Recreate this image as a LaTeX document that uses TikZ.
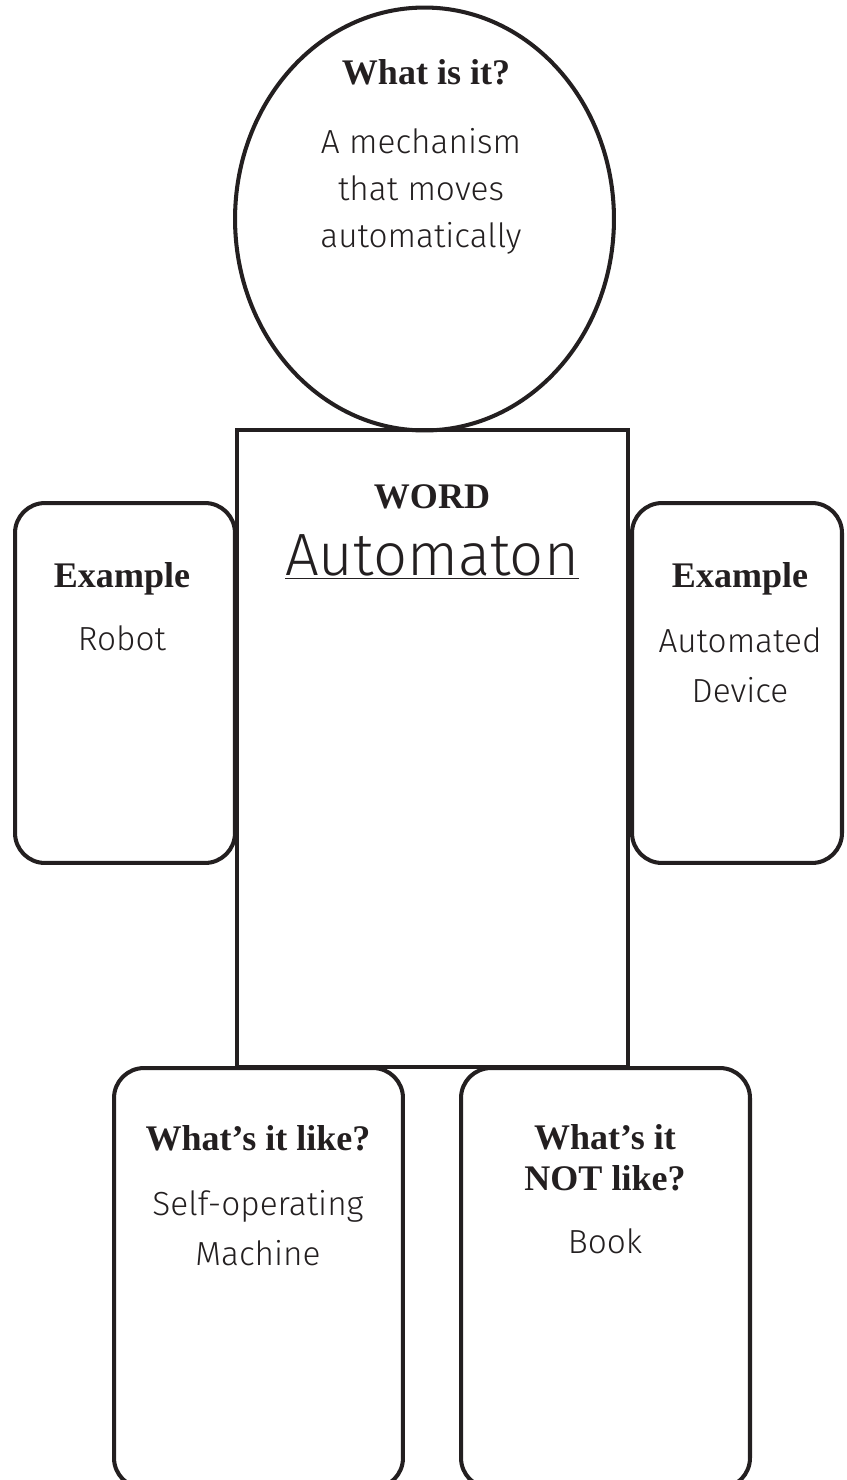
\documentclass[tikz,border=0pt]{standalone}
\usepackage{fontspec}
\setmainfont{Liberation Serif}
\newfontfamily\hand{Fira Sans Light}
\usetikzlibrary{shapes.geometric}
\definecolor{ink}{HTML}{231F20}

\begin{document}
\begin{tikzpicture}[x=0.02cm, y=-0.02cm, line width=2.3pt, color=ink,
    bubble/.style={draw,ellipse,inner sep=0pt},
    bigbox/.style={draw,rectangle,inner sep=0pt},
    card/.style={draw,rectangle,rounded corners=0.6cm,inner sep=0pt},
    head/.style={anchor=base,align=center,font=\fontsize{20.5}{23}\selectfont\bfseries},
    hand/.style={anchor=base,align=center,font=\hand\fontsize{19}{27}\selectfont}]
	\useasboundingbox (0,0) rectangle (846,1480);

	% head, body, arms, legs
	\node[bubble, minimum width=7.58cm, minimum height=8.46cm] (what) at (424.5,219) {};
	\node[card, minimum width=4.4cm, minimum height=7.2cm] (ex1) at (125,683) {};
	\node[card, minimum width=4.2cm, minimum height=7.2cm] (ex2) at (737,683) {};
	\node[card, minimum width=5.78cm, minimum height=8.4cm] (like) at (258.5,1278) {};
	\node[card, minimum width=5.78cm, minimum height=8.4cm] (notlike) at (605.5,1278) {};
	\node[bigbox, minimum width=7.82cm, minimum height=12.74cm] (word) at (432.5,748.5) {};

	% texts (base = last line)
	\node[head] (whathead) at (426,85) {What is it?};
	\node[hand] (whattext) at (421,248) {A mechanism\\that moves\\automatically};
	\node[head] (wordhead) at (432,508) {WORD};
	\node[hand, font=\hand\fontsize{34}{40}\selectfont] (wordtext) at (432,575) {\underline{Automaton}};
	\node[head] (ex1head) at (122,587) {Example};
	\node[hand] (ex1text) at (122,650) {Robot};
	\node[head] (ex2head) at (740,587) {Example};
	\node[hand, font=\hand\fontsize{19}{28}\selectfont] (ex2text) at (740,702) {Automated\\Device};
	\node[head] (likehead) at (258,1150) {What’s it like?};
	\node[hand, font=\hand\fontsize{19}{28}\selectfont] (liketext) at (258,1265) {Self-operating\\Machine};
	\node[head] (notlikehead) at (605,1190) {What’s it\\NOT like?};
	\node[hand] (notliketext) at (605,1253) {Book};
\end{tikzpicture}
\end{document}
